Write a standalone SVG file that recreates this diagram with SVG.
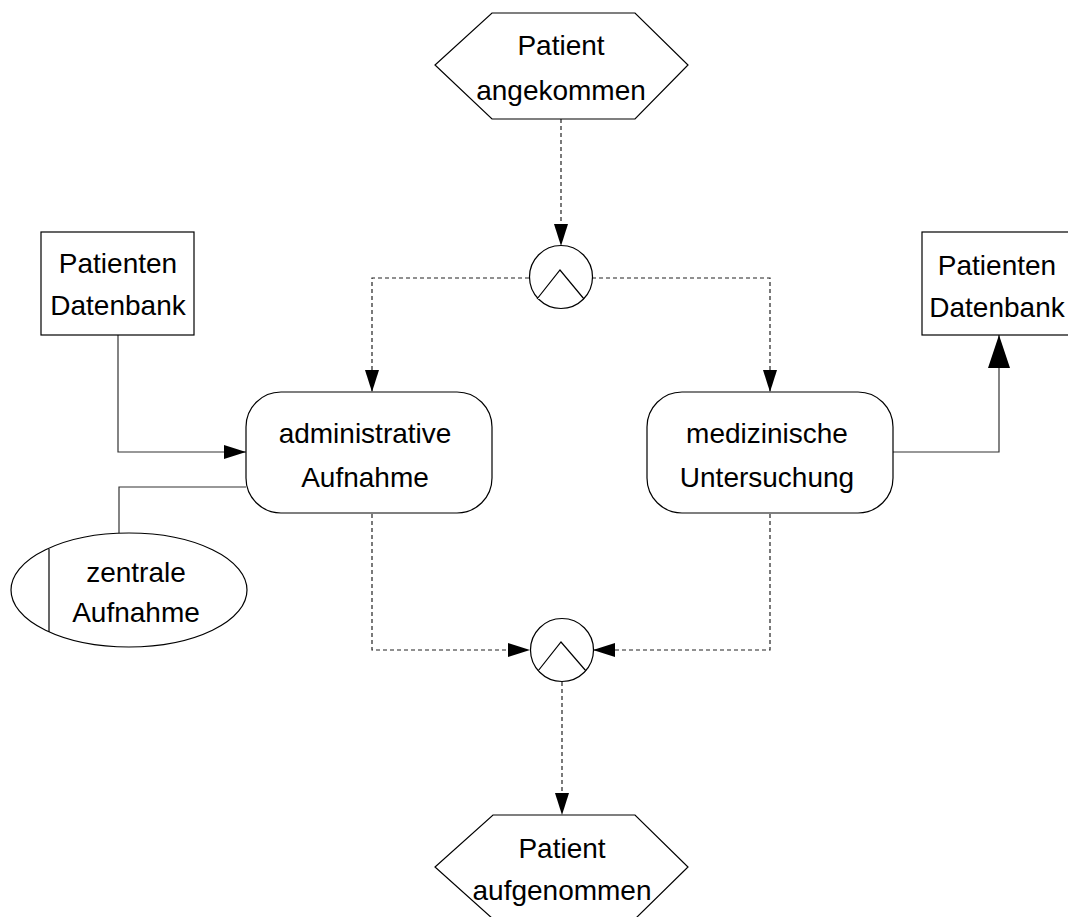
<svg xmlns="http://www.w3.org/2000/svg" width="1068" height="917" viewBox="0 0 1068 917">
<defs>
<style>
.shape{fill:#fff;stroke:#000;stroke-width:1.2}
.t{font-family:"Liberation Sans",Arial,sans-serif;font-size:28px;fill:#000;text-anchor:middle}
.dash{fill:none;stroke:#222;stroke-width:1.2;stroke-dasharray:4,3}
.solid{fill:none;stroke:#333;stroke-width:1.2}
</style>
<marker id="arr" markerUnits="userSpaceOnUse" markerWidth="24" markerHeight="14" refX="22" refY="7" orient="auto">
<path d="M0,0 L22,7 L0,14 Z" fill="#000"/>
</marker>
<marker id="arrBig" markerUnits="userSpaceOnUse" markerWidth="34" markerHeight="22" refX="33" refY="11" orient="auto">
<path d="M0,0 L33,11 L0,22 Z" fill="#000"/>
</marker>
</defs>
<rect width="1068" height="917" fill="#fff"/>
<g id="connectors">
<path class="dash" d="M561,119 L561,246" marker-end="url(#arr)"/>
<path class="dash" d="M529,278 L372,278 L372,392" marker-end="url(#arr)"/>
<path class="dash" d="M592,278 L770,278 L770,392" marker-end="url(#arr)"/>
<path class="dash" d="M372,514 L372,650 L530,650" marker-end="url(#arr)"/>
<path class="dash" d="M770,514 L770,650 L593,650" marker-end="url(#arr)"/>
<path class="dash" d="M562,682 L562,815" marker-end="url(#arr)"/>
<path class="solid" d="M118,335 L118,452 L246,452" marker-end="url(#arr)"/>
<path class="solid" d="M893,452 L999,452 L999,335" marker-end="url(#arrBig)"/>
<path class="solid" d="M119,533 L119,487 L246,487"/>
</g>
<g id="patient-angekommen">
<polygon class="shape" points="492,13 635,13 688,65 635,119 492,119 435,65"/>
<text class="t" x="561" y="55">Patient</text>
<text class="t" x="561" y="100">angekommen</text>
</g>
<g id="and-split">
<circle class="shape" cx="561" cy="277" r="31.5"/>
<polyline class="shape" fill="none" points="537,299 560,270 584,299"/>
</g>
<g id="patienten-db-left">
<rect class="shape" x="41" y="232" width="153" height="103"/>
<text class="t" x="118" y="273">Patienten</text>
<text class="t" x="118" y="315">Datenbank</text>
</g>
<g id="administrative-aufnahme">
<rect class="shape" x="246" y="392" width="246" height="121" rx="35" ry="35"/>
<text class="t" x="365" y="443">administrative</text>
<text class="t" x="365" y="487">Aufnahme</text>
</g>
<g id="medizinische-untersuchung">
<rect class="shape" x="647" y="392" width="246" height="121" rx="35" ry="35"/>
<text class="t" x="767" y="443">medizinische</text>
<text class="t" x="767" y="487">Untersuchung</text>
</g>
<g id="patienten-db-right">
<rect class="shape" x="922" y="232" width="153" height="103"/>
<text class="t" x="997" y="275">Patienten</text>
<text class="t" x="997" y="317">Datenbank</text>
</g>
<g id="zentrale-aufnahme">
<ellipse class="shape" cx="129" cy="590" rx="118" ry="57"/>
<line class="shape" x1="49" y1="549" x2="49" y2="632"/>
<text class="t" x="136" y="582">zentrale</text>
<text class="t" x="136" y="622">Aufnahme</text>
</g>
<g id="and-join">
<circle class="shape" cx="562" cy="650" r="31.5"/>
<polyline class="shape" fill="none" points="538,671 561,642 586,671"/>
</g>
<g id="patient-aufgenommen">
<polygon class="shape" points="493,815 635,815 688,867 635,919 493,919 435,867"/>
<text class="t" x="562" y="858">Patient</text>
<text class="t" x="562" y="900">aufgenommen</text>
</g>
</svg>
